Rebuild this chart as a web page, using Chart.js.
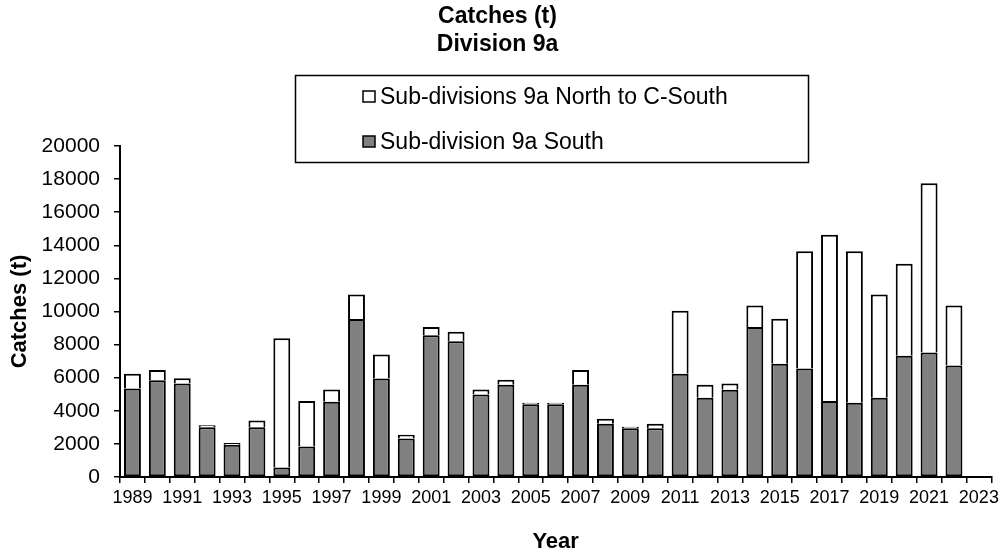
<!DOCTYPE html>
<html>
<head>
<meta charset="utf-8">
<script src="https://cdn.jsdelivr.net/npm/chart.js"></script>
<style>
  html, body { margin: 0; padding: 0; background: #fff; }
  #wrap { position: relative; width: 1003px; height: 555px; }
</style>
</head>
<body>
<div id="wrap"><canvas id="chart"></canvas></div>
<script>
// years on the category axis (2023 has no data)
const years = [
  '1989', '1990', '1991', '1992', '1993', '1994', '1995', '1996', '1997', '1998',
  '1999', '2000', '2001', '2002', '2003', '2004', '2005', '2006', '2007', '2008',
  '2009', '2010', '2011', '2012', '2013', '2014', '2015', '2016', '2017', '2018',
  '2019', '2020', '2021', '2022', '2023'
];

// Sub-division 9a South (grey, bottom of stack)
const southCatch = [
  5350, 5850, 5650, 3000, 1950, 3000, 580, 1850, 4550, 9550,
  5950, 2330, 8570, 8200, 4990, 5570, 4400, 4400, 5570, 3220,
  2950, 2940, 6240, 4790, 5270, 9070, 6840, 6560, 4590, 4490,
  4790, 7320, 7520, 6740, null
];

// Sub-divisions 9a North to C-South (white, top of stack)
const northCatch = [
  890, 610, 310, 120, 100, 420, 7810, 2740, 740, 1480,
  1450, 230, 500, 570, 300, 310, 90, 90, 890, 300,
  90, 280, 3800, 780, 380, 1290, 2720, 7080, 10040, 9150,
  6240, 5560, 10230, 3620, null
];

const yTicks = [0, 2000, 4000, 6000, 8000, 10000, 12000, 14000, 16000, 18000, 20000];

const FONT = "'Liberation Sans', Arial, sans-serif";

// legend is drawn in a box that overlaps the top of the plot, like the original
const boxLegend = {
  id: 'boxLegend',
  afterDraw(chart) {
    const ctx = chart.ctx;
    ctx.save();
    ctx.fillStyle = '#fff';
    ctx.fillRect(295, 75, 513, 87);
    ctx.strokeStyle = '#000';
    ctx.lineWidth = 1.5;
    ctx.strokeRect(295.5, 75.5, 513, 87);
    const items = chart.data.datasets.slice().reverse();
    const rows = [97, 142];
    ctx.font = '23px ' + FONT;
    ctx.textBaseline = 'middle';
    items.forEach((ds, i) => {
      const y = rows[i];
      ctx.fillStyle = ds.backgroundColor;
      ctx.fillRect(363, y - 6, 12, 11);
      ctx.lineWidth = 1.5;
      ctx.strokeStyle = '#000';
      ctx.strokeRect(363, y - 6, 12, 11);
      ctx.fillStyle = '#000';
      ctx.fillText(ds.label, 380, y + 1);
    });
    ctx.restore();
  }
};

new Chart(document.getElementById('chart'), {
  type: 'bar',
  data: {
    labels: years,
    datasets: [{
      label: 'Sub-division 9a South',
      data: southCatch,
      backgroundColor: '#808080',
      borderColor: '#000',
      borderWidth: 2,
      borderSkipped: false
    }, {
      label: 'Sub-divisions 9a North to C-South',
      data: northCatch,
      backgroundColor: '#ffffff',
      borderColor: '#000',
      borderWidth: 2,
      borderSkipped: 'bottom'
    }]
  },
  options: {
    responsive: true,
    maintainAspectRatio: false,
    animation: false,
    layout: { padding: { top: 0, right: 8, bottom: 0, left: 0 } },
    barPercentage: 0.68,
    categoryPercentage: 1,
    plugins: {
      legend: { display: false },
      tooltip: { enabled: false },
      title: {
        display: true,
        text: ['Catches (t)', 'Division 9a'],
        color: '#000',
        font: { family: FONT, size: 23, weight: 'bold', lineHeight: '28px' },
        padding: { top: 3, bottom: 87 }
      }
    },
    scales: {
      x: {
        stacked: true,
        afterFit(scale) { scale.height = 78; },
        grid: {
          offset: true,
          drawOnChartArea: false,
          drawTicks: true,
          tickLength: 6,
          color: '#000',
          lineWidth: 1.5
        },
        border: { display: true, color: '#000', width: 2 },
        ticks: {
          autoSkip: false,
          maxRotation: 0,
          padding: 4,
          color: '#000',
          font: { family: FONT, size: 18 },
          callback(value, index) { return index % 2 === 0 ? years[index] : ''; }
        },
        title: {
          display: true,
          text: 'Year',
          color: '#000',
          font: { family: FONT, size: 22, weight: 'bold' },
          padding: { top: 0, bottom: 0 }
        }
      },
      y: {
        stacked: true,
        min: 0,
        max: 20000,
        afterFit(scale) { scale.width = 120; },
        afterBuildTicks(scale) { scale.ticks = yTicks.map(v => ({ value: v })); },
        grid: {
          drawOnChartArea: false,
          drawTicks: true,
          tickLength: 6,
          color: '#000',
          lineWidth: 1.5
        },
        border: { display: true, color: '#000', width: 2 },
        ticks: {
          padding: 14,
          color: '#000',
          font: { family: FONT, size: 21 },
          callback(value) { return String(value); }
        },
        title: {
          display: true,
          text: 'Catches (t)',
          color: '#000',
          font: { family: FONT, size: 22, weight: 'bold' },
          padding: { top: 7, bottom: 0 }
        }
      }
    }
  },
  plugins: [boxLegend]
});
</script>
</body>
</html>
